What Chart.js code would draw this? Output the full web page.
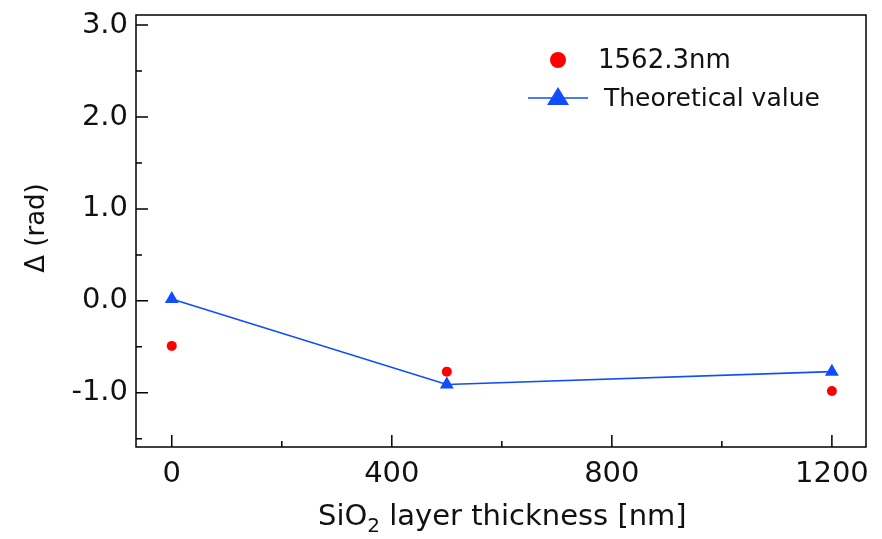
<!DOCTYPE html>
<html>
<head>
<meta charset="utf-8">
<script src="https://cdn.jsdelivr.net/npm/chart.js@4"></script>
<style>
  html, body { margin: 0; padding: 0; background: #fff; }
  #wrap { width: 882px; height: 539px; }
</style>
</head>
<body>
<div id="wrap"><canvas id="chart" width="882" height="539"></canvas></div>
<script>
// --- data ---
const thickness = [0, 500, 1200];
const measured = [-0.49, -0.77, -0.98];      // 1562.3nm
const theoretical = [0.02, -0.91, -0.77];    // Theoretical value

const xTicks = [0, 400, 800, 1200];
const xMinor = [200, 600, 1000];
const yTicks = [-1, 0, 1, 2, 3];
const yMinor = [-1.5, -0.5, 0.5, 1.5, 2.5];

const FONT = '"DejaVu Sans", sans-serif';
const RED = '#ff0000';
const BLUE = '#0f4dff';

const toXY = ys => thickness.map((x, i) => ({ x: x, y: ys[i] }));

// frame, inward ticks, axis titles, legend
const framePlugin = {
    id: 'frame',
    afterDraw(chart) {
        const ctx = chart.ctx;
        const a = chart.chartArea;
        const xs = chart.scales.x, ys = chart.scales.y;
        ctx.save();
        ctx.strokeStyle = '#000';
        ctx.lineWidth = 1.5;
        ctx.strokeRect(a.left, a.top, a.right - a.left, a.bottom - a.top);

        ctx.beginPath();
        yTicks.forEach(v => { const p = ys.getPixelForValue(v); ctx.moveTo(a.left, p); ctx.lineTo(a.left + 12, p); });
        yMinor.forEach(v => { const p = ys.getPixelForValue(v); ctx.moveTo(a.left, p); ctx.lineTo(a.left + 6, p); });
        xTicks.forEach(v => { const p = xs.getPixelForValue(v); ctx.moveTo(p, a.bottom); ctx.lineTo(p, a.bottom - 12); });
        xMinor.forEach(v => { const p = xs.getPixelForValue(v); ctx.moveTo(p, a.bottom); ctx.lineTo(p, a.bottom - 6); });
        ctx.stroke();

        // x title with subscript
        ctx.fillStyle = '#111';
        ctx.textBaseline = 'alphabetic';
        const p1 = 'SiO', p3 = ' layer thickness [nm]';
        ctx.font = '29px ' + FONT;
        const w1 = ctx.measureText(p1).width, w3 = ctx.measureText(p3).width;
        ctx.font = '20px ' + FONT;
        const w2 = ctx.measureText('2').width;
        const x0 = 318;
        const yb = 525;
        ctx.textAlign = 'left';
        ctx.font = '29px ' + FONT;
        ctx.fillText(p1, x0, yb);
        ctx.font = '20px ' + FONT;
        ctx.fillText('2', x0 + w1, yb + 7);
        ctx.font = '29px ' + FONT;
        ctx.fillText(p3, x0 + w1 + w2, yb);

        // y title
        ctx.save();
        ctx.translate(37, 228);
        ctx.rotate(-Math.PI / 2);
        ctx.textAlign = 'center';
        ctx.textBaseline = 'middle';
        ctx.font = '26px ' + FONT;
        ctx.fillText('\u0394 (rad)', 0, 0);
        ctx.restore();

        // legend
        ctx.fillStyle = RED;
        ctx.beginPath();
        ctx.arc(558, 60, 8, 0, Math.PI * 2);
        ctx.fill();
        ctx.strokeStyle = BLUE;
        ctx.lineWidth = 1.5;
        ctx.beginPath();
        ctx.moveTo(528, 98); ctx.lineTo(588, 98);
        ctx.stroke();
        ctx.fillStyle = BLUE;
        ctx.beginPath();
        ctx.moveTo(558, 87); ctx.lineTo(569, 105); ctx.lineTo(547, 105); ctx.closePath();
        ctx.fill();
        ctx.fillStyle = '#111';
        ctx.font = '26px ' + FONT;
        ctx.textAlign = 'left';
        ctx.textBaseline = 'middle';
        ctx.fillText('1562.3nm', 598, 61);
        ctx.font = '25px ' + FONT;
        ctx.fillText('Theoretical value', 604, 99);
        ctx.restore();
    }
};

new Chart(document.getElementById('chart'), {
    type: 'scatter',
    data: {
        datasets: [
            {
                label: 'Theoretical value',
                data: toXY(theoretical),
                showLine: true,
                borderColor: BLUE,
                backgroundColor: BLUE,
                borderWidth: 1.6,
                pointStyle: 'triangle',
                pointRadius: 8,
                pointBorderWidth: 0,
                order: 2
            },
            {
                label: '1562.3nm',
                data: toXY(measured),
                showLine: false,
                borderColor: RED,
                backgroundColor: RED,
                pointStyle: 'circle',
                pointRadius: 5,
                pointBorderWidth: 0,
                order: 1
            }
        ]
    },
    options: {
        responsive: false,
        animation: false,
        layout: { padding: { top: 15, right: 16, left: 0, bottom: 0 } },
        plugins: { legend: { display: false }, tooltip: { enabled: false } },
        scales: {
            x: {
                type: 'linear',
                min: -65,
                max: 1262,
                afterFit(s) { s.height = 92; s.paddingLeft = 0; s.paddingRight = 0; },
                afterBuildTicks(s) { s.ticks = xTicks.map(v => ({ value: v })); },
                grid: { display: false },
                border: { display: false },
                ticks: {
                    color: '#111', font: { family: FONT, size: 29 }, padding: 2, maxRotation: 0,
                    callback: v => String(v)
                }
            },
            y: {
                type: 'linear',
                min: -1.59,
                max: 3.11,
                afterFit(s) { s.width = 136; s.paddingTop = 0; s.paddingBottom = 0; },
                afterBuildTicks(s) { s.ticks = yTicks.map(v => ({ value: v })); },
                grid: { display: false },
                border: { display: false },
                ticks: {
                    color: '#111', font: { family: FONT, size: 29 }, padding: 0,
                    callback: v => v.toFixed(1)
                }
            }
        }
    },
    plugins: [framePlugin]
});
</script>
</body>
</html>
